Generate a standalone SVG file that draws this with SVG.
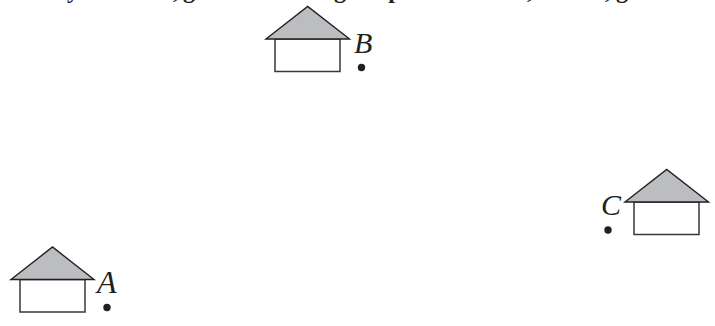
<svg xmlns="http://www.w3.org/2000/svg" width="715" height="326" viewBox="0 0 715 326">
<style>
.roof{fill:#bcbdc0;stroke:#231f20;stroke-width:1.4;stroke-linejoin:miter}
.body{fill:#fff;stroke:#3a3839;stroke-width:1.5}
.dot{fill:#231f20}
.lbl{font-family:"Liberation Serif",serif;font-style:italic;font-size:30px;fill:#231f20}
.cut{font-family:"Liberation Serif",serif;font-weight:bold;font-size:24px;fill:#231f20;text-anchor:middle}
</style>
<rect width="715" height="326" fill="#fff"/>
<g id="cut-off-text">
<text class="cut" x="73" y="-2">y</text>
<text class="cut" x="176" y="-2">,</text>
<text class="cut" x="189" y="-2">g</text>
<text class="cut" x="340" y="-2">g</text>
<text class="cut" x="395" y="-2">p</text>
<text class="cut" x="530" y="-2">,</text>
<text class="cut" x="608" y="-2">,</text>
<text class="cut" x="622" y="-2">g</text>
</g>
<g id="house-b">
<rect class="body" x="275" y="39" width="65" height="32.5"/>
<polygon class="roof" points="266,39 307.7,6.5 349.5,39"/>
<circle class="dot" cx="361.5" cy="67.5" r="3.7"/>
<text class="lbl" x="354" y="53">B</text>
</g>
<g id="house-a">
<rect class="body" x="20" y="279.5" width="65" height="32.5"/>
<polygon class="roof" points="11,279.5 52.5,247 94,279.5"/>
<circle class="dot" cx="107" cy="307.5" r="3.7"/>
<text class="lbl" x="97" y="293" style="font-size:32px">A</text>
</g>
<g id="house-c">
<rect class="body" x="634" y="202" width="65" height="32.5"/>
<polygon class="roof" points="625,202 666.7,169.5 708.5,202"/>
<circle class="dot" cx="608" cy="230" r="3.7"/>
<text class="lbl" x="601" y="215">C</text>
</g>
</svg>
